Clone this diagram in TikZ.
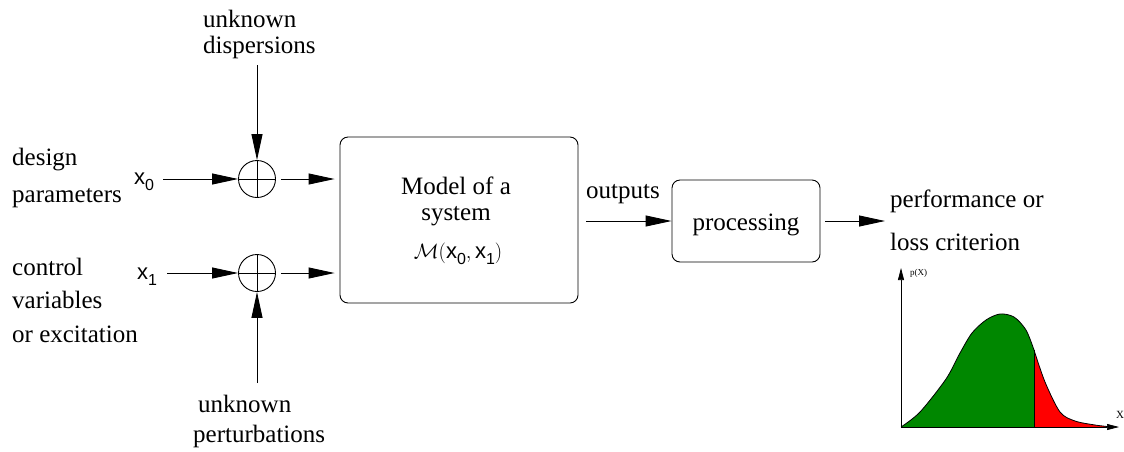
\documentclass[tikz,border=0pt]{standalone}
\usepackage{fontspec}
\setmainfont{Liberation Serif}
\setsansfont{Liberation Sans}
\newfontfamily\tms{Liberation Serif}
\usetikzlibrary{arrows.meta}
\newcommand\sx[1]{\textsf{x}\raisebox{-0.3em}{\fontsize{16}{16}\selectfont\textsf{#1}}}
\tikzset{
  lbl/.style={font=\tms\fontsize{25}{28}\selectfont, inner sep=0pt},
  xl/.style={font=\fontsize{22}{24}\selectfont\sffamily, inner sep=0pt},
  arr/.style={-{Triangle[length=26pt,width=11pt]}, line width=0.9pt},
  sarr/.style={-{Triangle[length=12pt,width=6pt]}, line width=0.7pt},
  sumnode/.style={circle, draw, line width=0.9pt, minimum size=37pt, inner sep=0pt,
    path picture={\draw[line width=0.9pt] (path picture bounding box.north) -- (path picture bounding box.south)
      (path picture bounding box.west) -- (path picture bounding box.east);}},
  blk/.style={draw, rounded corners=8pt, line width=0.9pt, inner sep=0pt},
}
\begin{document}
\begin{tikzpicture}[x=1pt,y=-1pt]
\useasboundingbox (0,0) rectangle (1124,451);
% summing junctions
\node[sumnode] (s0) at (257,179) {};
\node[sumnode] (s1) at (257,273) {};
% blocks
\node[blk, minimum width=238pt, minimum height=166pt] (model) at (459,220) {};
\node[blk, minimum width=148pt, minimum height=82pt] (proc) at (746,221) {};
% block texts
\node[lbl, anchor=base] (m1) at (456,194) {Model of a};
\node[lbl, anchor=base] (m2) at (456,220) {system};
\node[lbl, anchor=base] (m3) at (458,258) {\fontsize{22}{24}\selectfont$\mathcal{M}($\sx0$,\,$\sx1$)$};
\node[lbl, anchor=base] (pt) at (746,230) {processing};
% left labels
\node[lbl, anchor=base west] (d1) at (12,165) {design};
\node[lbl, anchor=base west] (d2) at (12,202) {parameters};
\node[lbl, anchor=base west] (c1) at (12,275) {control};
\node[lbl, anchor=base west] (c2) at (12,308) {variables};
\node[lbl, anchor=base west] (c3) at (12,342) {or excitation};
\node[xl, anchor=base] (lx0) at (144,184) {\sx0};
\node[xl, anchor=base] (lx1) at (147,279) {\sx1};
% top/bottom labels
\node[lbl, anchor=base west] (u1) at (203,27) {unknown};
\node[lbl, anchor=base west] (u2) at (203,53) {dispersions};
\node[lbl, anchor=base west] (p1) at (198,412) {unknown};
\node[lbl, anchor=base west] (p2) at (193,442) {perturbations};
% right labels
\node[lbl, anchor=base west] (out) at (586,198) {outputs};
\node[lbl, anchor=base west] (pf1) at (890,207) {performance or};
\node[lbl, anchor=base west] (pf2) at (890,250) {loss criterion};
% coordinates
\coordinate (utop) at (257,65);
\coordinate (pbot) at (257,383);
\coordinate (perfin) at (885,221);
% connectors
\draw[arr] (utop) -- (s0.north);
\draw[arr] (pbot) -- (s1.south);
\draw[arr, shorten <=9pt] (lx0.east |- s0.west) -- (s0.west);
\draw[arr, shorten <=10pt] (lx1.east |- s1.west) -- (s1.west);
\draw[arr, shorten <=5pt, shorten >=5pt] (s0.east) -- (s0.east -| model.west);
\draw[arr, shorten <=5pt, shorten >=5pt] (s1.east) -- (s1.east -| model.west);
\draw[arr, shorten <=8pt] (model.east |- proc.west) -- (proc.west);
\draw[arr, shorten <=5pt] (proc.east) -- (perfin);
% distribution plot
\coordinate (o) at (901,427);
\coordinate (yt) at (901,268);
\coordinate (xt) at (1119,427);
\fill[green!53!black] plot[smooth] coordinates {(901,427) (920,412) (946,379) (960,353) (972,333) (986,320) (1000,314) (1014,317) (1026,330) (1034,350)} -- (1034,427) -- cycle;
\draw[line width=0.8pt] plot[smooth] coordinates {(901,427) (920,412) (946,379) (960,353) (972,333) (986,320) (1000,314) (1014,317) (1026,330) (1034,350)};
\fill[red] plot[smooth] coordinates {(1034,350) (1045,382) (1060,412) (1075,421) (1095,425) (1112,427)} -- (1034,427) -- cycle;
\draw[line width=0.8pt] plot[smooth] coordinates {(1034,350) (1045,382) (1060,412) (1075,421) (1095,425) (1112,427)};
\draw[line width=0.8pt] (1034,350) -- (1034,427);
\draw[sarr] (o) -- (yt);
\draw[sarr] (o) -- (xt);
\node[font=\tms\fontsize{9}{10}\selectfont, anchor=base west, inner sep=0pt] (py) at (910,275) {p(X)};
\node[font=\tms\fontsize{11}{12}\selectfont, anchor=base west, inner sep=0pt] (xx) at (1116,418) {X};
\end{tikzpicture}
\end{document}
